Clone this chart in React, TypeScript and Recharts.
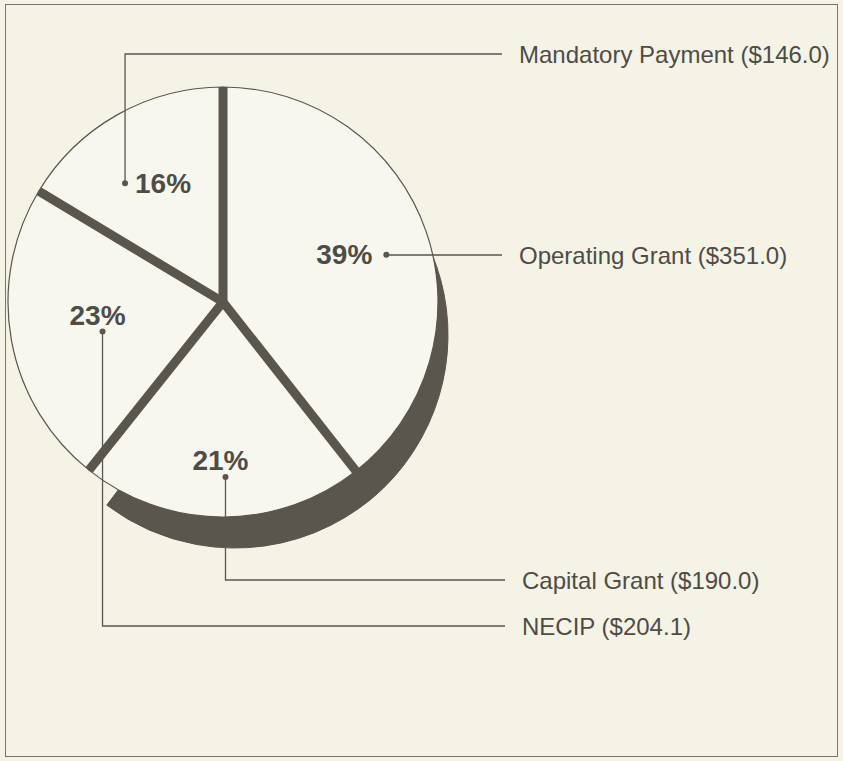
import React from 'react';
import { PieChart, Pie, Cell } from 'recharts';

// funding sources, clockwise from 12 o'clock
const categories = ['Operating Grant', 'Capital Grant', 'NECIP', 'Mandatory Payment'];
const amounts = [351.0, 190.0, 204.1, 146.0];
const amountLabels = ['$351.0', '$190.0', '$204.1', '$146.0'];

const data = categories.map((name, i) => ({ name, value: amounts[i], amount: amountLabels[i] }));

const CX = 223;
const CY = 302;
const R = 215;
const INK = '#5a564e';
const TEXT = '#4f4c46';
const PAPER = '#f4f3e6';
const FACE = '#f8f7ef';
const FONT = '"Liberation Sans", Arial, Helvetica, sans-serif';

type Lay = { shift: number; r: number; pct: 'left' | 'right' | 'above'; legendY: number; lineEnd: number; textX: number };

// where each percentage sits and where its leader runs to
const labelLayout: Record<string, Lay> = {
  'Operating Grant': { shift: 3, r: 170, pct: 'left', legendY: 255, lineEnd: 502, textX: 519 },
  'Capital Grant': { shift: -1, r: 175, pct: 'above', legendY: 580, lineEnd: 505, textX: 522 },
  NECIP: { shift: -3.5, r: 124, pct: 'above', legendY: 626, lineEnd: 505, textX: 522 },
  'Mandatory Payment': { shift: -10, r: 154, pct: 'right', legendY: 54, lineEnd: 502, textX: 519 },
};

const RAD = Math.PI / 180;
const polar = (cx: number, cy: number, r: number, angle: number) => ({
  x: cx + r * Math.cos(-angle * RAD),
  y: cy + r * Math.sin(-angle * RAD),
});

const renderLabel = (props: any) => {
  const { cx, cy, outerRadius, midAngle, startAngle, percent, index } = props;
  const entry = data[index];
  const lay = labelLayout[entry.name];
  const edge = polar(cx, cy, outerRadius, startAngle);
  const dot = polar(cx, cy, lay.r, midAngle - lay.shift);

  let tx = dot.x;
  let ty = dot.y;
  let anchor: 'start' | 'middle' | 'end' = 'middle';
  if (lay.pct === 'left') {
    tx = dot.x - 14;
    anchor = 'end';
  } else if (lay.pct === 'right') {
    tx = dot.x + 10;
    anchor = 'start';
  } else {
    tx = dot.x - 5;
    ty = dot.y - 16;
  }

  return (
    <g key={`lbl-${index}`}>
      <line x1={cx} y1={cy} x2={edge.x} y2={edge.y} stroke={INK} strokeWidth={9} strokeLinecap="butt" />
      <path
        d={`M${dot.x},${dot.y} V${lay.legendY} H${lay.lineEnd}`}
        fill="none"
        stroke={INK}
        strokeWidth={1.3}
      />
      <circle cx={dot.x} cy={dot.y} r={3} fill={INK} />
      <text
        x={tx}
        y={ty}
        textAnchor={anchor}
        dominantBaseline="central"
        fontFamily={FONT}
        fontWeight="bold"
        fontSize={28}
        fill={TEXT}
      >
        {`${Math.round(percent * 100)}%`}
      </text>
      <text
        x={lay.textX}
        y={lay.legendY}
        dominantBaseline="central"
        fontFamily={FONT}
        fontSize={24}
        fill={TEXT}
      >
        {`${entry.name} (${entry.amount})`}
      </text>
    </g>
  );
};

export default function App() {
  return (
    <div style={{ position: 'absolute', left: 0, top: 0, width: 843, height: 761, background: PAPER }}>
      <div
        style={{
          position: 'absolute',
          left: 5,
          top: 4,
          width: 831,
          height: 751,
          border: '1.5px solid #77746c',
        }}
      />
      <div style={{ position: 'absolute', left: 0, top: 0 }}>
        <PieChart width={843} height={761} margin={{ top: 0, right: 0, bottom: 0, left: 0 }}>
          {/* dark rim under the lower right of the disc */}
          <Pie
            data={data}
            dataKey="value"
            nameKey="name"
            cx={CX + 12}
            cy={CY + 33}
            outerRadius={R - 2}
            startAngle={35}
            endAngle={-127}
            fill={INK}
            stroke={INK}
            isAnimationActive={false}
            label={false}
            labelLine={false}
          />
          <Pie
            data={data}
            dataKey="value"
            nameKey="name"
            cx={CX}
            cy={CY}
            outerRadius={R}
            startAngle={90}
            endAngle={-270}
            stroke={INK}
            strokeWidth={1.2}
            isAnimationActive={false}
            label={renderLabel}
            labelLine={false}
          >
            {data.map((d) => (
              <Cell key={d.name} fill={FACE} />
            ))}
          </Pie>
        </PieChart>
      </div>
    </div>
  );
}
